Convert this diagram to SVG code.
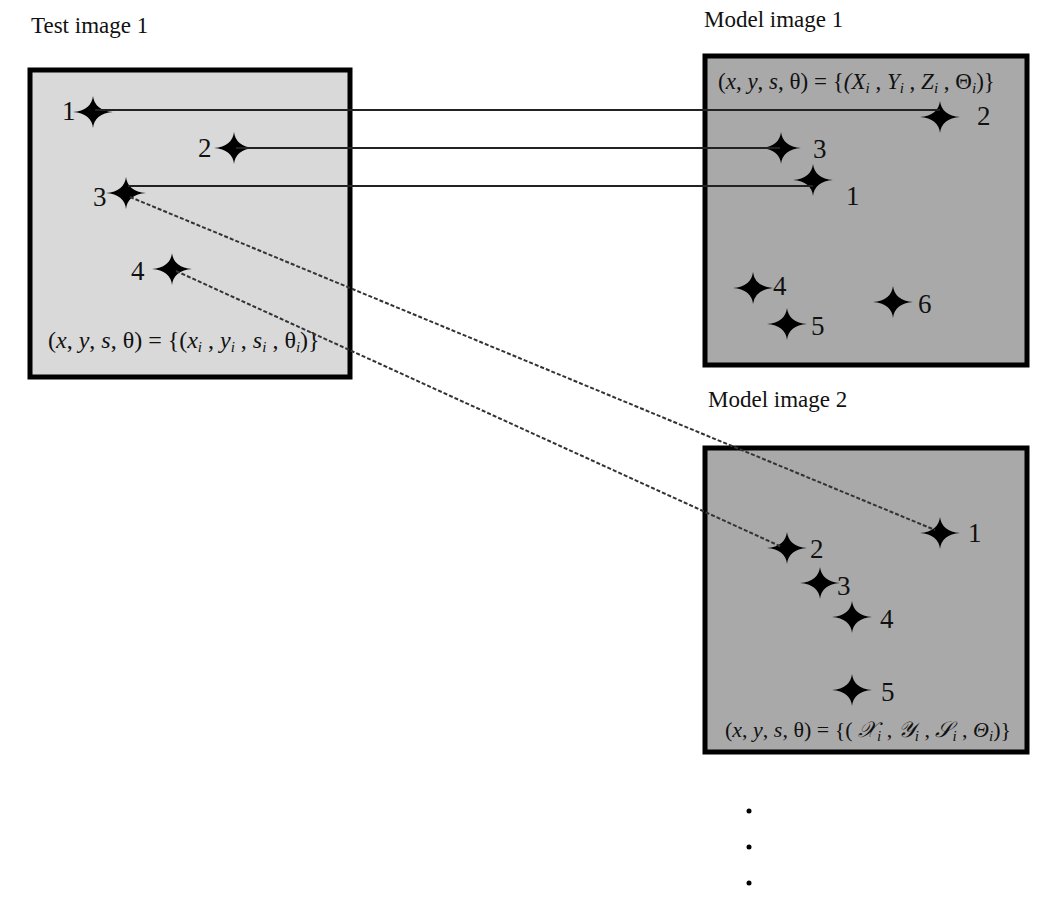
<svg xmlns="http://www.w3.org/2000/svg" width="1046" height="916" viewBox="0 0 1046 916">
<style>
.t{font-family:"Liberation Serif","Times New Roman",serif;fill:#111}
.title{font-size:23px}
.lbl{font-size:27px}
.f{font-size:23px}
.it{font-style:italic}
.sub{font-size:15px;font-style:italic}
.box{stroke:#000;stroke-width:5}
.solid{stroke:#222;stroke-width:2;fill:none}
.dash{stroke:#333;stroke-width:2;stroke-dasharray:4 2;fill:none}
</style>
<defs>
<path id="star" d="M0,-16 Q1.6,-1.6 20,0 Q1.6,1.6 0,16 Q-1.6,1.6 -20,0 Q-1.6,-1.6 0,-16 Z" fill="#000"/>
</defs>
<rect width="1046" height="916" fill="#fff"/>
<text class="t title" x="31" y="33">Test image 1</text>
<text class="t title" x="704" y="27">Model image 1</text>
<text class="t title" x="708" y="407">Model image 2</text>

<g id="test-image-1">
<rect class="box" x="30" y="70" width="320" height="307" fill="#d9d9d9"/>
<use href="#star" x="93" y="112"/>
<use href="#star" x="234" y="148"/>
<use href="#star" x="126" y="193"/>
<use href="#star" x="172" y="269"/>
<text class="t lbl" x="62" y="120">1</text>
<text class="t lbl" x="198" y="157">2</text>
<text class="t lbl" x="93" y="206">3</text>
<text class="t lbl" x="131" y="280">4</text>
<text class="t f" x="48" y="348" style="font-size:24px">(<tspan class="it">x</tspan>, <tspan class="it">y</tspan>, <tspan class="it">s</tspan>, θ) = {(<tspan class="it">x</tspan><tspan class="sub" dy="4">i</tspan><tspan dy="-4"> , </tspan><tspan class="it">y</tspan><tspan class="sub" dy="4">i</tspan><tspan dy="-4"> , </tspan><tspan class="it">s</tspan><tspan class="sub" dy="4">i</tspan><tspan dy="-4"> , θ</tspan><tspan class="sub" dy="4">i</tspan><tspan dy="-4">)}</tspan></text>
</g>

<g id="model-image-1">
<rect class="box" x="705" y="56" width="322" height="309" fill="#a9a9a9"/>
<use href="#star" x="940" y="117"/>
<use href="#star" x="781" y="148"/>
<use href="#star" x="813" y="180"/>
<use href="#star" x="753" y="288"/>
<use href="#star" x="787" y="324"/>
<use href="#star" x="893" y="302"/>
<text class="t lbl" x="977" y="125">2</text>
<text class="t lbl" x="813" y="158">3</text>
<text class="t lbl" x="846" y="205">1</text>
<text class="t lbl" x="773" y="295">4</text>
<text class="t lbl" x="811" y="335">5</text>
<text class="t lbl" x="918" y="313">6</text>
<text class="t f" x="718" y="89">(<tspan class="it">x</tspan>, <tspan class="it">y</tspan>, <tspan class="it">s</tspan>, θ) = {<tspan class="it">(X</tspan><tspan class="sub" dy="4">i</tspan><tspan dy="-4"> , </tspan><tspan class="it">Y</tspan><tspan class="sub" dy="4">i</tspan><tspan dy="-4"> , </tspan><tspan class="it">Z</tspan><tspan class="sub" dy="4">i</tspan><tspan dy="-4"> , Θ</tspan><tspan class="sub" dy="4">i</tspan><tspan dy="-4">)}</tspan></text>
</g>

<g id="model-image-2">
<rect class="box" x="705" y="448" width="322" height="304" fill="#a9a9a9"/>
<use href="#star" x="940" y="533"/>
<use href="#star" x="787" y="548"/>
<use href="#star" x="820" y="583"/>
<use href="#star" x="852" y="617"/>
<use href="#star" x="852" y="690"/>
<text class="t lbl" x="968" y="542">1</text>
<text class="t lbl" x="810" y="558">2</text>
<text class="t lbl" x="837" y="595">3</text>
<text class="t lbl" x="880" y="628">4</text>
<text class="t lbl" x="881" y="701">5</text>
<text class="t f" x="725" y="737" style="font-size:22px">(<tspan class="it">x</tspan>, <tspan class="it">y</tspan>, <tspan class="it">s</tspan>, θ) = {( <tspan class="it">𝒳</tspan><tspan class="sub" dy="4">i</tspan><tspan dy="-4"> , </tspan><tspan class="it">𝒴</tspan><tspan class="sub" dy="4">i</tspan><tspan dy="-4"> , </tspan><tspan class="it">𝒮</tspan><tspan class="sub" dy="4">i</tspan><tspan dy="-4"> , </tspan><tspan class="it">Θ</tspan><tspan class="sub" dy="4">i</tspan><tspan dy="-4">)}</tspan></text>
</g>

<g id="connectors">
<line class="solid" x1="95" y1="110" x2="940" y2="110"/>
<line class="solid" x1="236" y1="148" x2="780" y2="148"/>
<line class="solid" x1="128" y1="186" x2="813" y2="186"/>
<line class="dash" x1="130" y1="197" x2="935" y2="530"/>
<line class="dash" x1="176" y1="271" x2="782" y2="547"/>
</g>

<g id="ellipsis" fill="#000">
<circle cx="749" cy="811" r="2.5"/>
<circle cx="749" cy="847" r="2.5"/>
<circle cx="749" cy="883" r="2.5"/>
</g>
</svg>
